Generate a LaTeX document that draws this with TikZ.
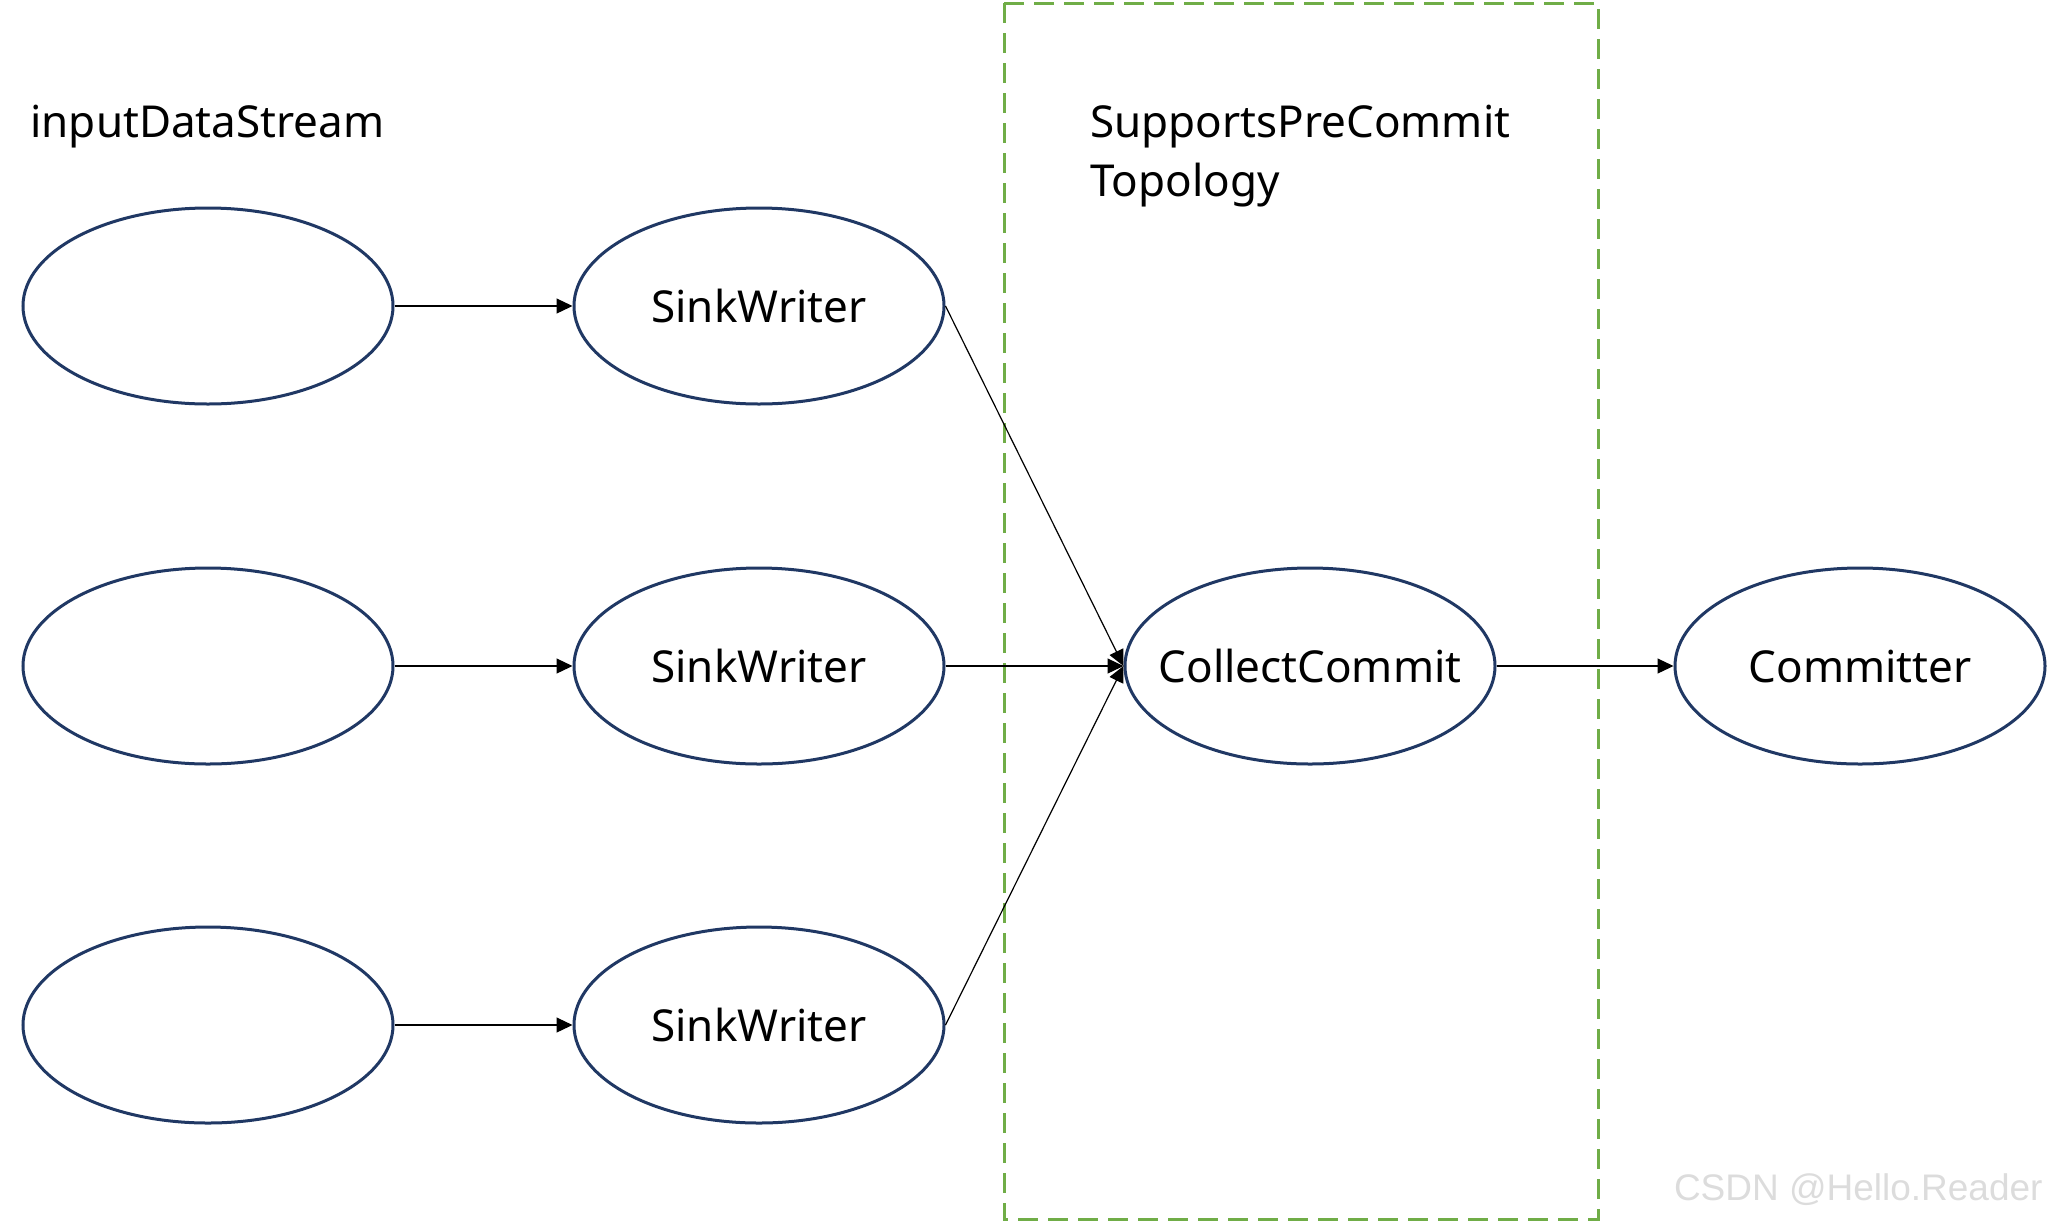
\documentclass[tikz,border=0pt]{standalone}
\usepackage{fontspec}
\setmainfont{Noto Sans}
\newfontfamily\wmfont{Liberation Sans}
\usetikzlibrary{shapes.geometric,arrows.meta}
\definecolor{navy}{HTML}{203864}
\definecolor{boxgreen}{HTML}{70AD47}
\definecolor{wmgray}{HTML}{DCDCDC}
\tikzset{
  oval/.style={ellipse,draw=navy,line width=1.5pt,minimum width=185pt,minimum height=98pt,inner sep=0pt,font=\fontsize{22pt}{26pt}\selectfont},
  conn/.style={draw=black,line width=0.6pt,-{Triangle[length=8pt,width=7.5pt]}},
  label/.style={anchor=base west,inner sep=0pt,font=\fontsize{22pt}{26pt}\selectfont},
  topobox/.style={draw=boxgreen,line width=1.5pt,dash pattern=on 10pt off 5pt}
}
\newcommand{\ovaltext}[1]{\makebox[0pt]{#1}}
\begin{document}
\begin{tikzpicture}[x=0.5pt,y=-0.5pt]
\useasboundingbox (0,0) rectangle (2048,1221);
\draw[topobox] (1004,3) rectangle (1598,1219);
\node[label] (lin) at (30,137) {inputDataStream};
\node[label] (ltop1) at (1090,137) {SupportsPreCommit};
\node[label] (ltop2) at (1090,196) {Topology};
\node[oval] (i1) at (208,306) {};
\node[oval] (i2) at (208,666) {};
\node[oval] (i3) at (208,1025) {};
\node[oval] (w1) at (759,306) {\ovaltext{SinkWriter}};
\node[oval] (w2) at (759,666) {\ovaltext{SinkWriter}};
\node[oval] (w3) at (759,1025) {\ovaltext{SinkWriter}};
\node[oval] (cc) at (1310,666) {\ovaltext{CollectCommit}};
\node[oval] (cm) at (1860,666) {\ovaltext{Committer}};
\draw[conn] (i1.east) -- (w1.west);
\draw[conn] (i2.east) -- (w2.west);
\draw[conn] (i3.east) -- (w3.west);
\draw[conn] (w1.east) -- (cc.west);
\draw[conn] (w2.east) -- (cc.west);
\draw[conn] (w3.east) -- (cc.west);
\draw[conn] (cc.east) -- (cm.west);
\node[anchor=base east,inner sep=0pt,text=wmgray,font=\wmfont\fontsize{18.5pt}{22pt}\selectfont] (wm) at (2043,1200) {CSDN @Hello.Reader};
\end{tikzpicture}
\end{document}
